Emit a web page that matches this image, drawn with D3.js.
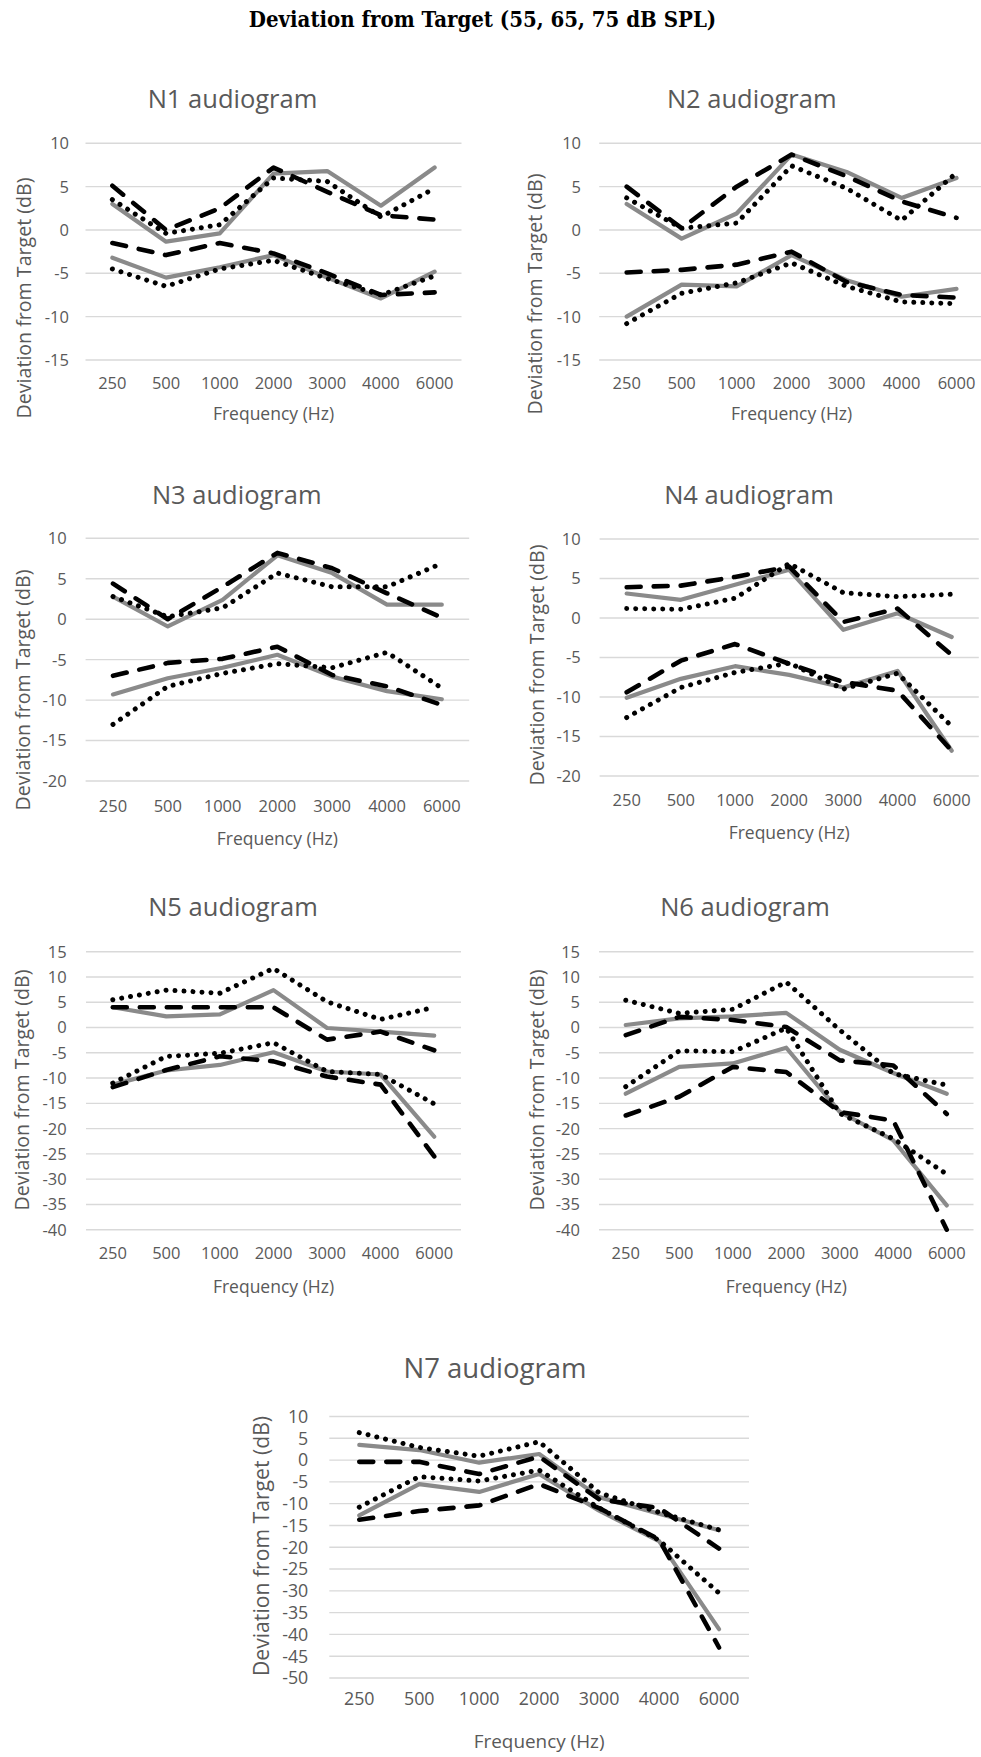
<!DOCTYPE html>
<html><head><meta charset="utf-8">
<script src="https://cdn.jsdelivr.net/npm/d3@7"></script>
<style>body{margin:0;background:#fff}</style>
</head><body>
<svg id="chart" width="981" height="1757"></svg>
<script>
// ---------- DATA ----------
const freqs = ["250", "500", "1000", "2000", "3000", "4000", "6000"];

const N1_solidUp = [3.0, -1.35, -0.4, 6.5, 6.8, 2.8, 7.2];
const N1_dashUp  = [5.1, 0.0, 2.5, 7.2, 4.4, 1.7, 1.2];
const N1_dotUp   = [3.5, -0.4, 0.6, 6.0, 5.6, 1.5, 4.8];
const N1_solidLo = [-3.2, -5.5, -4.3, -2.9, -5.5, -7.9, -4.8];
const N1_dashLo  = [-1.5, -2.9, -1.5, -2.7, -5.0, -7.5, -7.2];
const N1_dotLo   = [-4.5, -6.5, -4.5, -3.5, -5.6, -7.5, -5.3];

const N2_solidUp = [3.0, -1.0, 1.9, 8.7, 6.7, 3.7, 6.0];
const N2_dashUp  = [5.0, 0.2, 5.0, 8.7, 6.2, 3.3, 1.4];
const N2_dotUp   = [3.7, 0.2, 0.8, 7.4, 4.8, 1.1, 6.6];
const N2_solidLo = [-10.0, -6.3, -6.5, -2.9, -5.8, -7.7, -6.8];
const N2_dashLo  = [-4.9, -4.6, -4.0, -2.5, -6.0, -7.5, -7.8];
const N2_dotLo   = [-10.8, -7.3, -6.1, -3.8, -6.5, -8.3, -8.5];

const N3_solidUp = [2.8, -0.9, 2.4, 7.9, 5.7, 1.8, 1.8];
const N3_dashUp  = [4.4, 0.0, 4.0, 8.2, 6.3, 3.2, 0.2];
const N3_dotUp   = [2.8, 0.3, 1.4, 5.7, 4.0, 4.0, 6.9];
const N3_solidLo = [-9.3, -7.3, -6.0, -4.4, -7.1, -8.9, -9.9];
const N3_dashLo  = [-7.0, -5.4, -4.9, -3.4, -6.9, -8.3, -10.6];
const N3_dotLo   = [-13.0, -8.3, -6.7, -5.5, -6.0, -4.1, -8.5];

const N4_solidUp = [3.1, 2.3, 4.2, 6.1, -1.5, 0.6, -2.4];
const N4_dashUp  = [3.9, 4.1, 5.2, 6.5, -0.5, 1.2, -4.7];
const N4_dotUp   = [1.2, 1.1, 2.5, 6.9, 3.2, 2.7, 3.0];
const N4_solidLo = [-10.1, -7.7, -6.1, -7.2, -8.8, -6.7, -16.8];
const N4_dashLo  = [-9.4, -5.4, -3.3, -5.8, -8.1, -9.2, -16.8];
const N4_dotLo   = [-12.6, -8.8, -6.9, -5.7, -9.0, -7.0, -13.7];

const N5_solidUp = [4.0, 2.2, 2.6, 7.4, -0.1, -0.8, -1.6];
const N5_dashUp  = [4.0, 4.0, 4.0, 4.0, -2.4, -0.8, -4.5];
const N5_dotUp   = [5.5, 7.4, 6.8, 11.7, 5.1, 1.6, 4.0];
const N5_solidLo = [-11.3, -8.5, -7.4, -4.9, -8.7, -9.3, -21.6];
const N5_dashLo  = [-11.8, -8.4, -5.7, -6.7, -9.7, -11.3, -25.5];
const N5_dotLo   = [-11.0, -5.7, -5.1, -3.0, -8.7, -9.3, -15.1];

const N6_solidUp = [0.5, 1.8, 2.2, 2.9, -4.4, -9.0, -13.1];
const N6_dashUp  = [-1.5, 2.1, 1.5, 0.1, -6.5, -7.5, -17.1];
const N6_dotUp   = [5.4, 2.8, 3.6, 9.0, -0.5, -9.1, -11.4];
const N6_solidLo = [-13.1, -7.8, -7.1, -4.0, -16.7, -22.3, -35.2];
const N6_dashLo  = [-17.4, -13.7, -7.8, -8.8, -16.7, -18.4, -40.0];
const N6_dotLo   = [-11.7, -4.6, -4.8, -0.1, -17.0, -22.0, -29.0];

const N7_solidUp = [3.5, 2.3, -0.6, 1.4, -8.5, -12.3, -16.1];
const N7_dashUp  = [-0.4, -0.4, -3.2, 0.8, -9.0, -11.0, -20.3];
const N7_dotUp   = [6.3, 2.9, 0.9, 4.2, -7.5, -12.0, -16.0];
const N7_solidLo = [-12.7, -5.5, -7.3, -3.2, -11.6, -18.6, -38.8];
const N7_dashLo  = [-13.7, -11.7, -10.4, -5.5, -11.0, -18.2, -43.0];
const N7_dotLo   = [-10.8, -3.8, -4.8, -2.3, -11.0, -18.4, -30.5];

const yTicks_N12 = [10, 5, 0, -5, -10, -15];
const yTicks_N34 = [10, 5, 0, -5, -10, -15, -20];
const yTicks_N56 = [15, 10, 5, 0, -5, -10, -15, -20, -25, -30, -35, -40];
const yTicks_N7  = [10, 5, 0, -5, -10, -15, -20, -25, -30, -35, -40, -45, -50];

const mainTitle = "Deviation from Target (55, 65, 75 dB SPL)";
const xTitle = "Frequency (Hz)";
const yTitle = "Deviation from Target (dB)";

// ---------- LAYOUT ----------
const panels = [
  {title:"N1 audiogram", series:[N1_solidUp,N1_solidLo,N1_dashUp,N1_dashLo,N1_dotUp,N1_dotLo], ticks:yTicks_N12,
   x0:85.5, x1:461.5, yT:143.3, yB:360, tickR:69, xLab:383, xTit:414, tx:232.5, ty:99, ytx:24, yty:298, fs:1},
  {title:"N2 audiogram", series:[N2_solidUp,N2_solidLo,N2_dashUp,N2_dashLo,N2_dotUp,N2_dotLo], ticks:yTicks_N12,
   x0:599.2, x1:984, yT:143.3, yB:360, tickR:581, xLab:383, xTit:414, tx:751.7, ty:99, ytx:535, yty:294, fs:1},
  {title:"N3 audiogram", series:[N3_solidUp,N3_solidLo,N3_dashUp,N3_dashLo,N3_dotUp,N3_dotLo], ticks:yTicks_N34,
   x0:85.6, x1:469.2, yT:538.3, yB:781, tickR:66.7, xLab:806, xTit:839, tx:236.7, ty:495, ytx:23, yty:690, fs:1},
  {title:"N4 audiogram", series:[N4_solidUp,N4_solidLo,N4_dashUp,N4_dashLo,N4_dotUp,N4_dotLo], ticks:yTicks_N34,
   x0:599.6, x1:978.8, yT:539, yB:776, tickR:580.7, xLab:800, xTit:833, tx:749, ty:495, ytx:536.7, yty:665, fs:1},
  {title:"N5 audiogram", series:[N5_solidUp,N5_solidLo,N5_dashUp,N5_dashLo,N5_dotUp,N5_dotLo], ticks:yTicks_N56,
   x0:86, x1:461, yT:951.7, yB:1229.7, tickR:66.7, xLab:1253.5, xTit:1287, tx:233, ty:906.7, ytx:21.7, yty:1090, fs:1},
  {title:"N6 audiogram", series:[N6_solidUp,N6_solidLo,N6_dashUp,N6_dashLo,N6_dotUp,N6_dotLo], ticks:yTicks_N56,
   x0:599, x1:973.5, yT:951.7, yB:1229.7, tickR:580, xLab:1253.5, xTit:1287, tx:745, ty:906.7, ytx:536.7, yty:1090, fs:1},
  {title:"N7 audiogram", series:[N7_solidUp,N7_solidLo,N7_dashUp,N7_dashLo,N7_dotUp,N7_dotLo], ticks:yTicks_N7,
   x0:329.3, x1:749, yT:1416.5, yB:1678, tickR:308.3, xLab:1699, xTit:1741, tx:495, ty:1368, ytx:261.7, yty:1546, fs:1.08}
];

const styles = [
  {stroke:"#8a8a8a", width:4.2, dash:null, cap:"round"},
  {stroke:"#8a8a8a", width:4.2, dash:null, cap:"round"},
  {stroke:"#000", width:4.6, dash:"14,13", cap:"round"},
  {stroke:"#000", width:4.6, dash:"14,13", cap:"round"},
  {stroke:"#000", width:5.0, dash:"0.01,9", cap:"round"},
  {stroke:"#000", width:5.0, dash:"0.01,9", cap:"round"}
];

const FONT = "'Open Sans', 'Noto Sans', sans-serif";
const TXT = "#595959";
const svg = d3.select("#chart");
svg.append("rect").attr("width",981).attr("height",1757).attr("fill","#fff");

svg.append("text")
  .attr("x", 482.5).attr("y", 19).attr("dy","0.35em")
  .attr("text-anchor","middle")
  .style("font-family","'DejaVu Serif Condensed','DejaVu Serif',serif")
  .style("font-stretch","condensed")
  .style("font-weight","bold")
  .style("font-size","22px")
  .attr("fill","#000")
  .text(mainTitle);

panels.forEach(p => {
  const g = svg.append("g");
  const x = d3.scalePoint().domain(freqs).range([p.x0, p.x1]).padding(0.5);
  const ext = d3.extent(p.ticks);
  const y = d3.scaleLinear().domain([ext[0], ext[1]]).range([p.yB, p.yT]);

  // gridlines
  g.append("g").selectAll("line").data(p.ticks).join("line")
    .attr("x1", p.x0).attr("x2", p.x1)
    .attr("y1", d => y(d)).attr("y2", d => y(d))
    .attr("stroke", "#d9d9d9").attr("stroke-width", 1.4);

  // y tick labels
  g.append("g").selectAll("text").data(p.ticks).join("text")
    .attr("x", p.tickR).attr("y", d => y(d)).attr("dy","0.36em")
    .attr("text-anchor","end")
    .style("font-family", FONT).style("font-size", (16.5*p.fs)+"px")
    .attr("fill", TXT).text(d => d);

  // x tick labels
  g.append("g").selectAll("text").data(freqs).join("text")
    .attr("x", d => x(d)).attr("y", p.xLab).attr("dy","0.36em")
    .attr("text-anchor","middle")
    .style("font-family", FONT).style("font-size", (16.5*p.fs)+"px")
    .attr("fill", TXT).text(d => d);

  // axis titles
  g.append("text")
    .attr("x", (p.x0+p.x1)/2).attr("y", p.xTit).attr("dy","0.36em")
    .attr("text-anchor","middle")
    .style("font-family", FONT).style("font-size", (17.5*p.fs)+"px")
    .attr("fill", TXT).text(xTitle);

  g.append("text")
    .attr("transform", `translate(${p.ytx},${p.yty}) rotate(-90)`)
    .attr("dy","0.36em")
    .attr("text-anchor","middle")
    .style("font-family", FONT).style("font-size", (19.6*p.fs)+"px")
    .attr("fill", TXT).text(yTitle);

  // panel title
  g.append("text")
    .attr("x", p.tx).attr("y", p.ty).attr("dy","0.36em")
    .attr("text-anchor","middle")
    .style("font-family", FONT).style("font-size", (25.5*p.fs)+"px")
    .attr("fill", TXT).text(p.title);

  // lines
  const line = d3.line().x((d,i) => x(freqs[i])).y(d => y(d));
  p.series.forEach((s, i) => {
    const st = styles[i];
    g.append("path").datum(s)
      .attr("d", line)
      .attr("fill","none")
      .attr("stroke", st.stroke)
      .attr("stroke-width", st.width)
      .attr("stroke-linecap", st.cap)
      .attr("stroke-linejoin","round")
      .attr("stroke-dasharray", st.dash);
  });
});
</script>
</body></html>
